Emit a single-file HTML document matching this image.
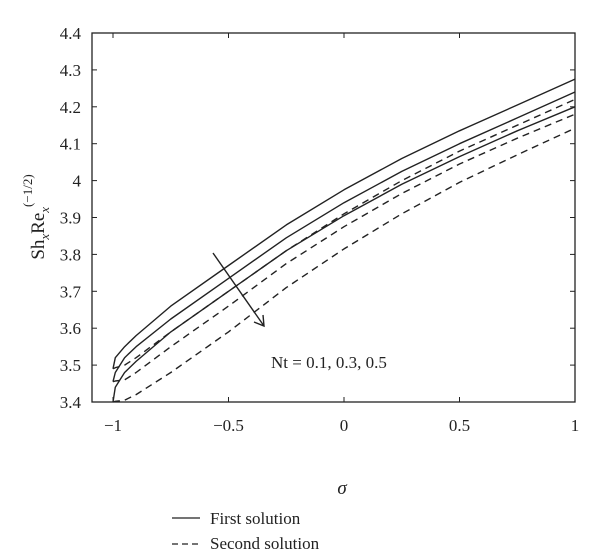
<!DOCTYPE html>
<html><head><meta charset="utf-8"><style>
body{margin:0;background:#fff;}
svg text{font-family:"Liberation Serif",serif;fill:#222;}
</style></head><body>
<svg id="chart" width="600" height="549" xmlns="http://www.w3.org/2000/svg">
<g id="plot"></g>
<rect x="92" y="33" width="483" height="369" fill="none" stroke="#222" stroke-width="1.3"/>
<g id="axes"></g>
<text transform="translate(44,217) rotate(-90)" text-anchor="middle" font-size="19">Sh<tspan font-size="13" font-style="italic" dy="5">x</tspan><tspan dy="-5">Re</tspan><tspan font-size="13" font-style="italic" dy="5">x</tspan><tspan font-size="13" dy="-17">(−1/2)</tspan></text>
<text x="342" y="494" font-size="19" font-style="italic" text-anchor="middle">σ</text>
<g stroke="#222" stroke-width="1.4" fill="none">
<line x1="213" y1="253" x2="264" y2="326"/>
<polyline points="254,322 264,326 263,315"/>
</g>
<text x="271" y="368" font-size="17">Nt = 0.1, 0.3, 0.5</text>
<g>
<line x1="172" y1="518" x2="200" y2="518" stroke="#222" stroke-width="1.3"/>
<text x="210" y="524" font-size="17">First solution</text>
<line x1="172" y1="544" x2="200" y2="544" stroke="#222" stroke-width="1.3" stroke-dasharray="6,4"/>
<text x="210" y="549" font-size="17">Second solution</text>
</g>
</svg>
<script>
const sigma=[-1,-0.99,-0.95,-0.9,-0.75,-0.5,-0.25,0,0.25,0.5,0.75,1];
const firstNt01=[3.49,3.52,3.55,3.58,3.66,3.77,3.88,3.975,4.06,4.135,4.205,4.275];
const firstNt03=[3.455,3.48,3.52,3.55,3.625,3.735,3.845,3.94,4.025,4.10,4.17,4.24];
const firstNt05=[3.40,3.44,3.48,3.51,3.59,3.70,3.81,3.905,3.99,4.065,4.135,4.20];
const secondNt01=[3.49,3.493,3.50,3.52,3.59,3.70,3.81,3.91,4.00,4.08,4.15,4.22];
const secondNt03=[3.455,3.457,3.46,3.48,3.55,3.66,3.775,3.875,3.965,4.045,4.115,4.18];
const secondNt05=[3.40,3.402,3.405,3.42,3.48,3.59,3.71,3.815,3.91,3.995,4.07,4.142];
const xTicks=[-1,-0.5,0,0.5,1];
const xTickLabels=["−1","−0.5","0","0.5","1"];
const yTicks=[3.4,3.5,3.6,3.7,3.8,3.9,4,4.1,4.2,4.3,4.4];
const yTickLabels=["3.4","3.5","3.6","3.7","3.8","3.9","4","4.1","4.2","4.3","4.4"];
const NS="http://www.w3.org/2000/svg";
const xs=v=>113+(v+1)*231;
const ys=v=>402-(v-3.4)*369;
const plot=document.getElementById('plot');
const axes=document.getElementById('axes');
function path(vals,dashed,name){
  const p=document.createElementNS(NS,'path');
  let d='';
  sigma.forEach((s,i)=>{d+=(i?'L':'M')+xs(s).toFixed(1)+','+ys(vals[i]).toFixed(1);});
  p.setAttribute('d',d);p.setAttribute('fill','none');p.setAttribute('stroke','#222');
  p.setAttribute('stroke-width','1.4');p.setAttribute('stroke-linejoin','round');
  if(dashed)p.setAttribute('stroke-dasharray','7,5');
  
  
  plot.appendChild(p);
}
path(firstNt01,false,'first-solution-nt-0-1');
path(firstNt03,false,'first-solution-nt-0-3');
path(firstNt05,false,'first-solution-nt-0-5');
path(secondNt01,true,'second-solution-nt-0-1');
path(secondNt03,true,'second-solution-nt-0-3');
path(secondNt05,true,'second-solution-nt-0-5');
xTicks.forEach((v,i)=>{
  const x=xs(v);
  [[402,397],[33,38]].forEach(([a,b])=>{
    const l=document.createElementNS(NS,'line');
    l.setAttribute('x1',x);l.setAttribute('x2',x);l.setAttribute('y1',a);l.setAttribute('y2',b);l.setAttribute('stroke','#222');
    
    
    axes.appendChild(l);
  });
  const t=document.createElementNS(NS,'text');
  t.setAttribute('x',x);t.setAttribute('y',431);t.setAttribute('text-anchor','middle');t.setAttribute('font-size','17');
  t.textContent=xTickLabels[i];
  
  
  axes.appendChild(t);
});
yTicks.forEach((v,i)=>{
  const y=ys(v);
  [[92,97],[575,570]].forEach(([a,b])=>{
    const l=document.createElementNS(NS,'line');
    l.setAttribute('x1',a);l.setAttribute('x2',b);l.setAttribute('y1',y);l.setAttribute('y2',y);l.setAttribute('stroke','#222');
    
    
    axes.appendChild(l);
  });
  const t=document.createElementNS(NS,'text');
  t.setAttribute('x',81);t.setAttribute('y',y+6);t.setAttribute('text-anchor','end');t.setAttribute('font-size','17');
  t.textContent=yTickLabels[i];
  
  
  axes.appendChild(t);
});
</script>
</body></html>
